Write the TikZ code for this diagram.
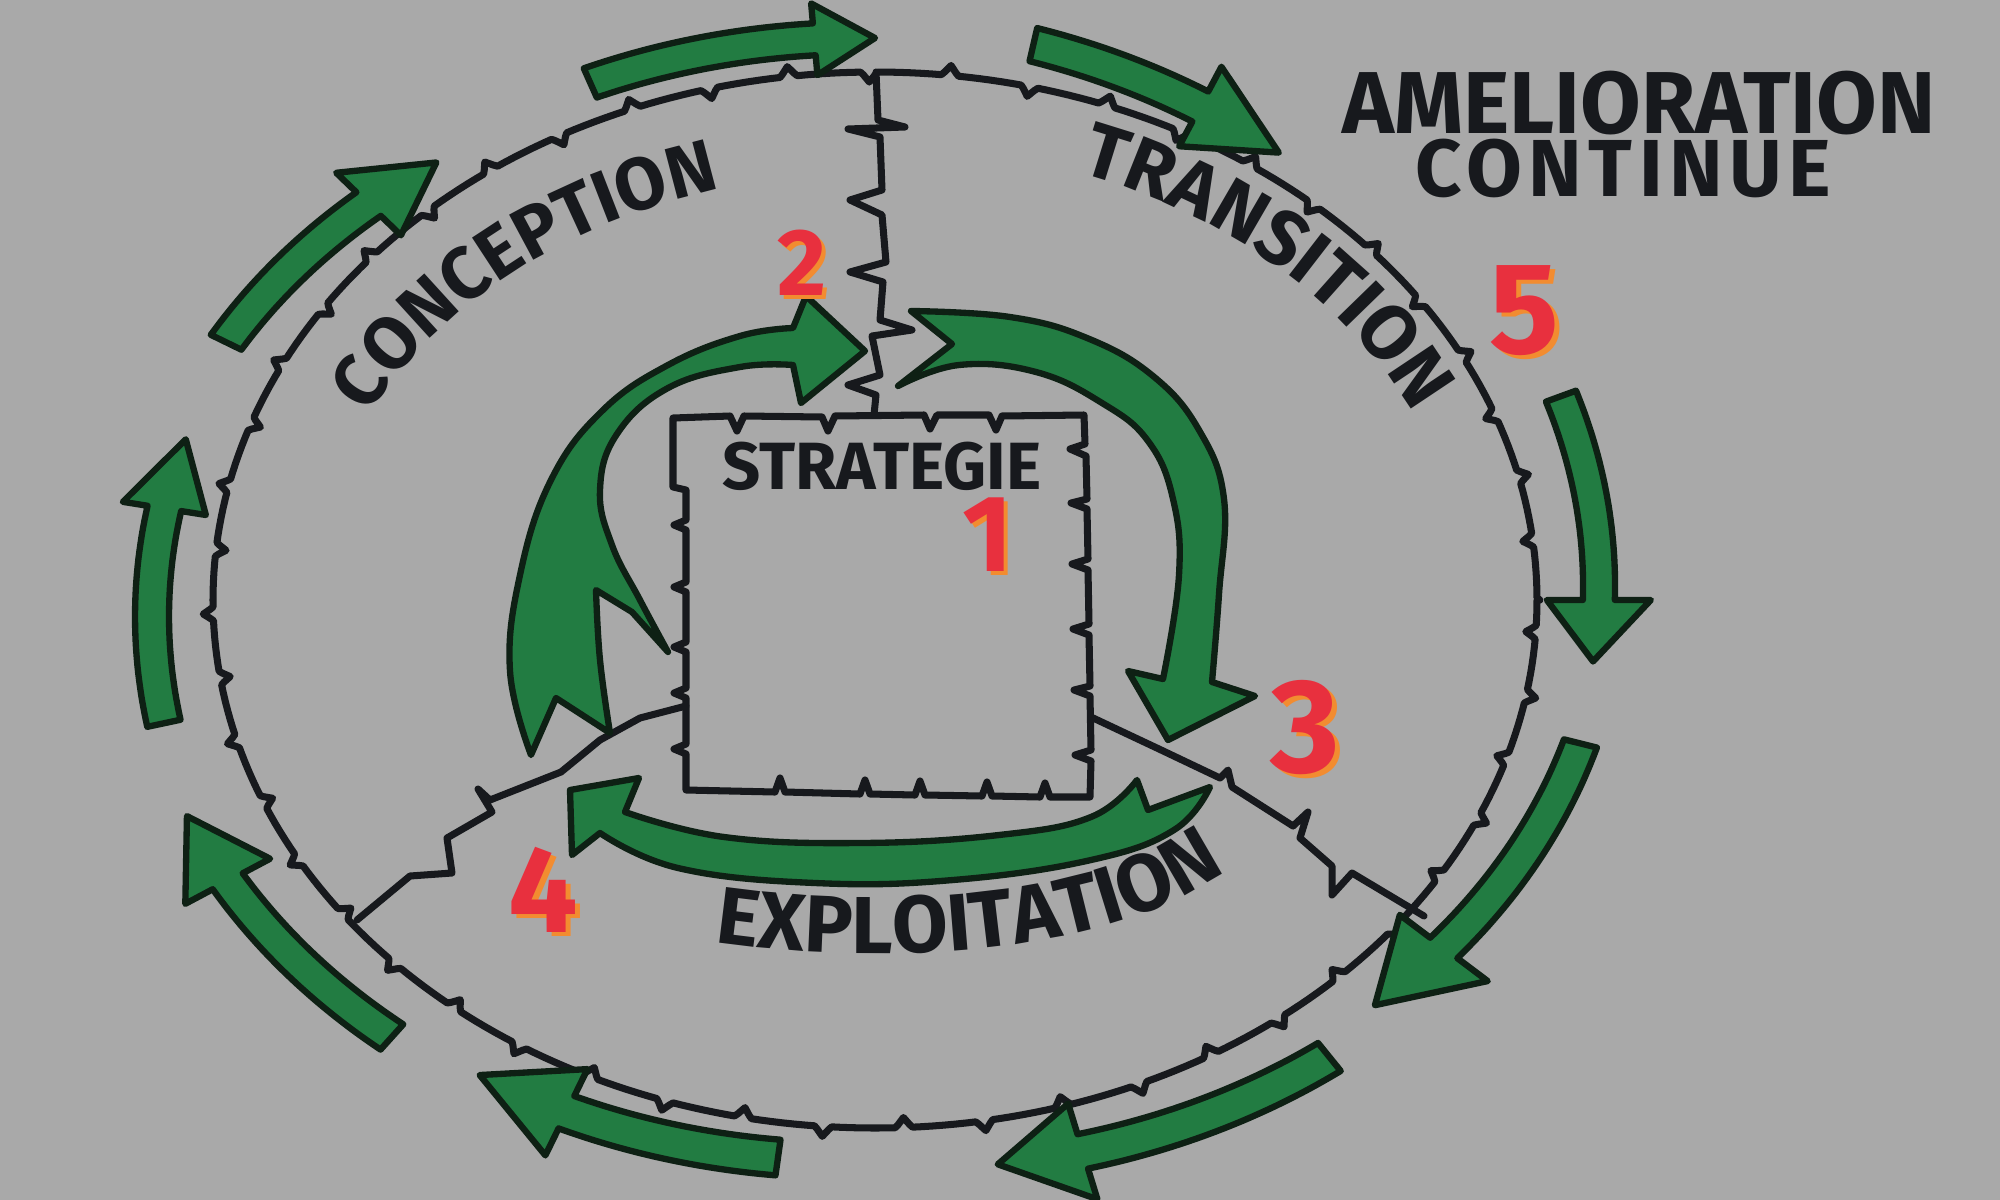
\documentclass[tikz,border=0pt]{standalone}
\usepackage{fontspec}
\newfontfamily\hand{Fira Sans}
\usetikzlibrary{decorations.text}
\definecolor{bg}{RGB}{169,169,169}
\definecolor{ink}{RGB}{23,25,29}
\definecolor{agreen}{RGB}{34,124,66}
\definecolor{aedge}{RGB}{14,32,20}
\definecolor{nred}{RGB}{232,48,62}
\definecolor{norange}{RGB}{242,140,48}
\newcommand{\bw}{17}
\newcommand{\hw}{40}
% outer arc arrow: cx cy rx ry d1 d2 a1 a2(tip) ab(head base)
\newcommand{\oarrow}[9]{%
  \pgfmathsetmacro\oaF{((#9)-(#7))/((#8)-(#7))}%
  \pgfmathsetmacro\oaD{#5+(#6-#5)*\oaF}%
  \pgfmathsetmacro\oaAx{#1+(#3+\oaD+\hw)*cos(#9)}%
  \pgfmathsetmacro\oaAy{#2+(#4+\oaD+\hw)*sin(#9)}%
  \pgfmathsetmacro\oaBx{#1+(#3+\oaD-\hw)*cos(#9)}%
  \pgfmathsetmacro\oaBy{#2+(#4+\oaD-\hw)*sin(#9)}%
  \pgfmathsetmacro\oaTx{#1+(#3+#6)*cos(#8)}%
  \pgfmathsetmacro\oaTy{#2+(#4+#6)*sin(#8)}%
  \filldraw[garrow] plot[domain=#7:#9,samples=30] ({#1+(#3+#5+(#6-#5)*(\x-(#7))/((#8)-(#7))+\bw)*cos(\x)},{#2+(#4+#5+(#6-#5)*(\x-(#7))/((#8)-(#7))+\bw)*sin(\x)})
   -- (\oaAx,\oaAy) -- (\oaTx,\oaTy) -- (\oaBx,\oaBy)
   -- plot[domain=#9:#7,samples=30] ({#1+(#3+#5+(#6-#5)*(\x-(#7))/((#8)-(#7))-\bw)*cos(\x)},{#2+(#4+#5+(#6-#5)*(\x-(#7))/((#8)-(#7))-\bw)*sin(\x)})
   -- cycle;}
\begin{document}
\begin{tikzpicture}[x=0.01cm,y=-0.01cm,
  declare function={jag(\t)=10*max(0,1-abs(mod(\t,7)-3.5)/0.7)*(2*mod(floor(\t/7),2)-1);},
  inkline/.style={draw=ink,line width=2pt,line join=round,line cap=round},
  garrow/.style={fill=agreen,draw=aedge,line width=1.8pt,line join=round},
  lab/.style={text=ink,inner sep=0pt},
  nshadow/.style={text=norange,inner sep=0pt},
  nfront/.style={text=nred,inner sep=0pt}]
\fill[fill=bg] (0,0) rectangle (2000,1200);
\useasboundingbox (0,0) rectangle (2000,1200);

% big jagged ellipse
\draw[inkline] plot[domain=0:360,samples=1441,variable=\t] ({875+(662+jag(\t))*cos(\t)},{600+(528+jag(\t))*sin(\t)}) -- cycle;

% dividers
\coordinate (dtop) at (876,72);
\coordinate (dll) at (357,920);
\coordinate (dlr) at (1424,916);
\draw[inkline] (dtop) -- (878,120) -- (905,127) -- (848,129) -- (880,137) -- (882,190) -- (850,200) -- (882,215) -- (886,262) -- (850,272) -- (883,282) -- (880,320) -- (912,330) -- (872,336) -- (880,375) -- (848,385) -- (876,395) -- (874,415);
\draw[inkline] (686,706) -- (640,718) -- (600,740) -- (561,772) -- (490,800) -- (478,789) -- (492,812) -- (447,838) -- (452,873) -- (410,876) -- (dll);
\draw[inkline] (1091,717) -- (1159,749) -- (1220,778) -- (1228,770) -- (1232,787) -- (1293,826) -- (1308,812) -- (1300,838) -- (1332,866) -- (1332,895) -- (1352,873) -- (dlr);

% strategy box
\draw[inkline] (673,418) -- (730,416) -- (737,431) -- (744,416) -- (822,417) -- (828,431) -- (835,416) -- (924,415) -- (930,429) -- (937,415) -- (989,415) -- (996,430) -- (1002,416) -- (1084,415) -- (1085,444) -- (1070,449) -- (1086,456) -- (1087,499) -- (1071,503) -- (1087,509) -- (1088,559) -- (1072,564) -- (1088,570) -- (1089,624) -- (1073,629) -- (1089,635) -- (1090,686) -- (1074,690) -- (1090,696) -- (1091,750) -- (1075,755) -- (1091,761) -- (1090,797) -- (1050,797) -- (1045,783) -- (1040,797) -- (992,796) -- (987,782) -- (982,796) -- (925,795) -- (920,781) -- (915,795) -- (870,794) -- (865,780) -- (860,794) -- (785,792) -- (780,778) -- (775,792) -- (686,790) -- (686,754) -- (674,749) -- (686,744) -- (686,698) -- (674,693) -- (686,688) -- (686,652) -- (674,647) -- (686,642) -- (686,592) -- (674,587) -- (686,582) -- (686,530) -- (674,525) -- (686,520) -- (686,490) -- (673,487) -- cycle;
\node[lab,font=\hand\bfseries\fontsize{19}{19}\selectfont] (strat) at (882,466) {STRATEGIE};

% inner arrows
% left arrow with its inner spike
\filldraw[garrow] plot[smooth,tension=0.7] coordinates {(531,755) (510,671) (520,575) (551,480) (602,411) (668,365) (740,336) (793,328)} -- (806,296) -- (865,351) -- (801,403) -- plot[smooth,tension=0.7] coordinates {(793,365) (740,367) (668,388) (617,434) (600,490) (612,545) (640,600) (668,652)} -- (632,612) -- plot[smooth,tension=0.7] coordinates {(596,590) (600,660) (610,733)} -- (556,698) -- cycle;
% right arrow
\filldraw[garrow] plot[smooth,tension=0.7] coordinates {(911,311) (1010,317) (1087,338) (1153,376) (1199,430) (1224,499) (1219,594) (1212,682)} -- (1255,696) -- (1168,740) -- (1128,671) -- plot[smooth,tension=0.7] coordinates {(1163,679) (1179,575) (1173,499) (1148,441) (1102,403) (1036,372) (959,365) (898,386)} -- (952,344) -- cycle;
% bottom arrow
\filldraw[garrow] plot[smooth,tension=0.7] coordinates {(1137,780) (1091,817) (999,835) (861,843) (724,837) (625,812)} -- (639,778) -- (570,790) -- (572,855) -- plot[smooth,tension=0.7] coordinates {(600,833) (678,868) (815,883) (953,880) (1091,860) (1174,830) (1210,787)} -- (1148,810) -- cycle;

% outer arrows
\renewcommand{\bw}{16}\renewcommand{\hw}{36}
\oarrow{875}{600}{662}{528}{38}{34}{246}{270}{265}
\renewcommand{\bw}{17}\renewcommand{\hw}{45}
\oarrow{875}{600}{662}{528}{42}{25}{283}{306}{298}
\renewcommand{\bw}{16}\renewcommand{\hw}{52}
\oarrow{875}{600}{662}{528}{68}{60}{340}{366}{360}
\renewcommand{\bw}{17}\renewcommand{\hw}{55}
\oarrow{875}{600}{662}{528}{65}{45}{14}{45}{37}
\renewcommand{\bw}{18}\renewcommand{\hw}{50}
\oarrow{875}{600}{662}{528}{60}{45}{51}{80}{73}
\renewcommand{\bw}{18}\renewcommand{\hw}{48}
\oarrow{875}{600}{662}{528}{35}{45}{98}{124}{116}
\renewcommand{\bw}{17}\renewcommand{\hw}{48}
\oarrow{875}{600}{662}{528}{60}{75}{132}{159}{152}
\renewcommand{\bw}{17}\renewcommand{\hw}{42}
\oarrow{875}{600}{662}{528}{65}{55}{168}{196}{189}
\renewcommand{\bw}{17}\renewcommand{\hw}{45}
\oarrow{875}{600}{662}{528}{60}{35}{206}{231}{224}

% curved labels
\path[decorate,decoration={text along path,text align=center,text={|\hand\bfseries\fontsize{21}{21}\selectfont\color{ink}|CONCEPTION}}] plot[domain=188:268,samples=60,variable=\t] ({875+562*cos(\t)},{600+428*sin(\t)});
\path[decorate,decoration={text along path,text align=center,text={|\hand\bfseries\fontsize{22}{22}\selectfont\color{ink}|TRANSITION}}] plot[domain=275:355,samples=60,variable=\t] ({875+590*cos(\t)},{600+456*sin(\t)});
\path[decorate,decoration={text along path,text align=center,text={|\hand\bfseries\fontsize{23}{23}\selectfont\color{ink}|EXPLOITATION}}] (676,936) .. controls (880,972) and (1140,958) .. (1256,846);

% title
\node[lab,font=\hand\bfseries\fontsize{25}{25}\selectfont] (amel) at (1639,103) {AMELIORATION};
\node[lab,font=\hand\bfseries\fontsize{23}{23}\selectfont\addfontfeatures{LetterSpace=8}] (cont) at (1623,168) {CONTINUE};

% numbers
\node[nshadow,font=\hand\bfseries\fontsize{27}{27}\selectfont] (n2s) at (806,267) {2};
\node[nfront,font=\hand\bfseries\fontsize{27}{27}\selectfont] (n2) at (802,263) {2};
\node[nshadow,font=\hand\bfseries\fontsize{31}{31}\selectfont] (n1s) at (992,539) {1};
\node[nfront,font=\hand\bfseries\fontsize{31}{31}\selectfont] (n1) at (988,535) {1};
\node[nshadow,font=\hand\bfseries\fontsize{37}{37}\selectfont] (n5s) at (1529,315) {5};
\node[nfront,font=\hand\bfseries\fontsize{37}{37}\selectfont] (n5) at (1524,311) {5};
\node[nshadow,font=\hand\bfseries\fontsize{38}{38}\selectfont] (n3s) at (1310,732) {3};
\node[nfront,font=\hand\bfseries\fontsize{38}{38}\selectfont] (n3) at (1305,728) {3};
\node[nshadow,font=\hand\bfseries\fontsize{35}{35}\selectfont] (n4s) at (548,894) {4};
\node[nfront,font=\hand\bfseries\fontsize{35}{35}\selectfont] (n4) at (543,890) {4};
\end{tikzpicture}
\end{document}
